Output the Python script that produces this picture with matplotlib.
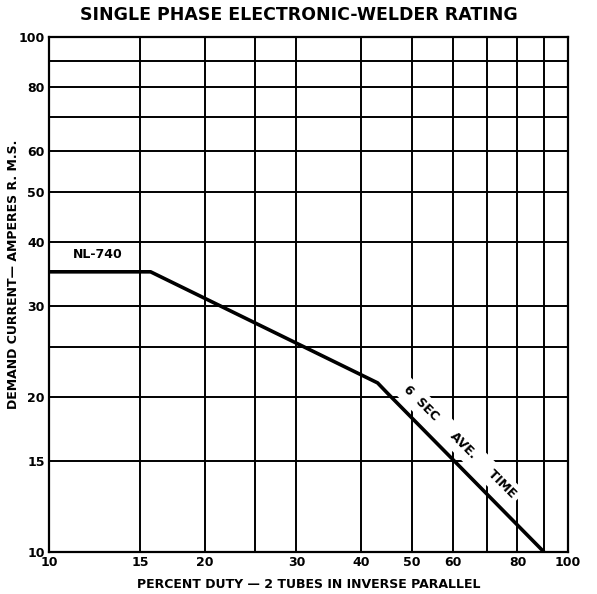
import matplotlib
matplotlib.use("Agg")
import matplotlib.pyplot as plt
from matplotlib.ticker import FixedLocator, NullLocator, FixedFormatter

# Data
duty = [10, 15.7, 43, 44.8, 90]
current = [35, 35, 21.3, 20.4, 10]

x_ticks = [10, 15, 20, 30, 40, 50, 60, 80, 100]
x_tick_labels = ["10", "15", "20", "30", "40", "50", "60", "80", "100"]
y_ticks = [10, 15, 20, 30, 40, 50, 60, 80, 100]
y_tick_labels = ["10", "15", "20", "30", "40", "50", "60", "80", "100"]
x_grid = [15, 20, 25, 30, 40, 50, 60, 70, 80, 90]
y_grid = [15, 20, 25, 30, 40, 50, 60, 70, 80, 90]

title = "SINGLE PHASE ELECTRONIC-WELDER RATING"
xlabel = "PERCENT DUTY \u2014 2 TUBES IN INVERSE PARALLEL"
ylabel = "DEMAND CURRENT\u2014 AMPERES R. M.S."
curve_label = "NL-740"
rating_label = "6  SEC     AVE.     TIME"

plt.rcParams['font.family'] = ['DejaVu Sans']

fig = plt.figure(figsize=(5.97, 5.94), dpi=100)
ax = fig.add_axes([0.082, 0.0707, 0.869, 0.867])
ax.set_xscale('log')
ax.set_yscale('log')
ax.set_xlim(10, 100)
ax.set_ylim(10, 100)

for gx in x_grid:
    ax.axvline(gx, color='black', lw=1.4, zorder=1)
for gy in y_grid:
    ax.axhline(gy, color='black', lw=1.4, zorder=1)

ax.plot(duty, current, color='black', lw=2.6, solid_capstyle='butt', zorder=3)

ax.xaxis.set_major_locator(FixedLocator(x_ticks))
ax.xaxis.set_major_formatter(FixedFormatter(x_tick_labels))
ax.xaxis.set_minor_locator(NullLocator())
ax.yaxis.set_major_locator(FixedLocator(y_ticks))
ax.yaxis.set_major_formatter(FixedFormatter(y_tick_labels))
ax.yaxis.set_minor_locator(NullLocator())
ax.tick_params(axis='both', length=0, labelsize=9, pad=3)
for lab in ax.get_xticklabels() + ax.get_yticklabels():
    lab.set_fontweight('bold')

for s in ax.spines.values():
    s.set_linewidth(1.6)

ax.set_xlabel(xlabel, fontsize=9, fontweight='bold')
ax.xaxis.set_label_coords(0.5, -0.05)
ax.set_ylabel(ylabel, fontsize=9, fontweight='bold')
ax.yaxis.set_label_coords(-0.055, 0.54)
fig.text(0.5, 0.975, title, ha='center', va='center', fontsize=12.5, fontweight='bold')

ax.text(12.4, 36.8, curve_label, ha='center', va='bottom', fontsize=9, fontweight='bold')
ax.text(61.8, 16.35, rating_label, ha='center', va='center', fontsize=9,
        fontweight='bold', rotation=-45, rotation_mode='anchor', zorder=2,
        bbox=dict(facecolor='white', edgecolor='none', pad=3.5))

fig.savefig("out.png", dpi=100)
